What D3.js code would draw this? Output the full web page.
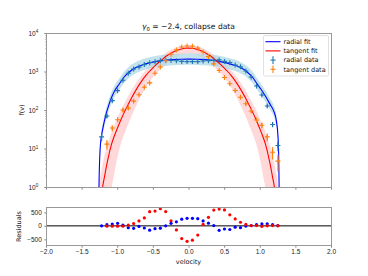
<!DOCTYPE html>
<html>
<head>
<meta charset="utf-8">
<script src="https://cdnjs.cloudflare.com/ajax/libs/d3/7.8.5/d3.min.js"></script>
<style>
  body { margin: 0; background: #fff; }
  svg { display: block; font-family: 'DejaVu Sans', sans-serif; }
  .axis text { font-size: 6.5px; fill: #222; }
  .axis line { stroke: #888; }
</style>
</head>
<body>
<div id="chart"></div>
<script>
// bin centres (velocity) of the data points
var binV = [-1.22, -1.145, -1.07, -0.995, -0.92, -0.845, -0.77, -0.695, -0.62, -0.545, -0.47, -0.395,
    -0.32, -0.245, -0.17, -0.095, -0.02, 0.055, 0.13, 0.205, 0.28, 0.355, 0.43, 0.505,
    0.58, 0.655, 0.73, 0.805, 0.88, 0.955, 1.03, 1.105, 1.18, 1.255];

// counts
var radialData = [20, 70, 175, 318, 590, 900, 1160, 1300, 1510, 1700, 1790, 1900,
    1950, 1930, 1910, 1830, 1810, 1810, 1807, 1867, 1912, 1948, 2000, 1830,
    1700, 1480, 1320, 1030, 720, 420, 245, 127, 42, 12];
var tangentData = [null, 13, 34, 56, 100, 112, 170, 250, 390, 505, 900, 1310,
    1910, 2800, 3630, 4340, 4610, 4520, 4040, 3215, 2440, 1575, 1060, 700,
    480, 320, 215, 145, 94, 55, 40, 20, 8, 4.7];

// residuals (fit - data)
var radialResid = [0, 45, 70, 95, 25, -70, -90, -20, -80, -160, -105, -85,
    0, 95, 150, 250, 280, 280, 268, 183, 98, 12, -165, -116,
    -134, -49, -67, -6, 12, 49, 73, 79, 43, 12];
var tangentResid = [null, -12, -12, -12, -12, 24, 85, 183, 293, 525, 549, 635,
    530, 190, -150, -470, -573, -530, -342, 55, 317, 586, 622, 590,
    410, 256, 134, 55, 10, 10, -20, 0, 12, 0];

// radial fit with its band
var radialFitV = [-1.26, -1.255, -1.25, -1.24, -1.22, -1.2, -1.18, -1.16, -1.13, -1.1, -1.07, -1.03,
    -1.0, -0.95, -0.9, -0.85, -0.8, -0.75, -0.7, -0.65, -0.6, -0.5, -0.4, -0.3, -0.2, -0.1, 0,
    0.115, 0.215, 0.315, 0.415, 0.515, 0.615, 0.715, 0.815, 0.915, 0.965, 1.015, 1.085,
    1.145, 1.195, 1.235, 1.255, 1.265, 1.27, 1.275];
var radialFit = [0.3, 1.5, 3.5, 10, 22, 35, 52, 75, 115, 170, 235, 330,
    400, 540, 730, 900, 1080, 1230, 1360, 1480, 1580, 1750, 1890, 1990, 2050, 2080, 2090,
    2080, 2040, 1970, 1860, 1700, 1510, 1300, 1000, 650, 470, 350, 220,
    140, 95, 50, 22, 8, 2, 0.3];
var radialHi = [0.4, 2.1, 4.9, 14, 31, 49, 73, 105, 161, 238, 329, 462,
    560, 756, 1022, 1260, 1512, 1722, 1904, 2072, 2212, 2450, 2646, 2786, 2870, 2912, 2926,
    2912, 2856, 2758, 2604, 2380, 2114, 1820, 1400, 910, 658, 490, 308,
    196, 133, 70, 31, 11, 2.8, 0.4];
var radialLo = [0.2, 1.1, 2.5, 7.1, 16, 25, 37, 54, 82, 121, 168, 236,
    286, 386, 521, 643, 771, 879, 971, 1057, 1129, 1250, 1350, 1421, 1464, 1486, 1493,
    1486, 1457, 1407, 1329, 1214, 1079, 929, 714, 464, 336, 250, 157,
    100, 68, 36, 16, 5.7, 1.4, 0.2];

// tangent fit with its band
var tangentFitV = [-1.28, -1.26, -1.23, -1.205, -1.18, -1.15, -1.12, -1.1, -1.09, -1.08, -1.05, -1.0,
    -0.95, -0.9, -0.85, -0.8, -0.75, -0.7, -0.65, -0.6, -0.55, -0.5, -0.45, -0.4, -0.35, -0.3,
    -0.25, -0.2, -0.15, -0.1, -0.05, 0, 0.05, 0.1, 0.15, 0.2, 0.25, 0.3, 0.35, 0.4, 0.45, 0.5,
    0.55, 0.6, 0.65, 0.7, 0.75, 0.8, 0.85, 0.9, 0.95, 1.0, 1.05, 1.08, 1.09, 1.1, 1.12, 1.15,
    1.18, 1.205, 1.23, 1.26, 1.28];
var tangentFit = [0.3, 0.3, 0.3, 1.0, 1.8, 3.6, 6.5, 9.5, 11, 13, 19, 33,
    55, 88, 135, 205, 300, 430, 590, 780, 1000, 1250, 1530, 1850, 2200, 2600,
    2950, 3300, 3600, 3850, 4000, 4050, 4000, 3850, 3600, 3300, 2950, 2600, 2200, 1850, 1530, 1250,
    1000, 780, 590, 430, 300, 205, 135, 88, 55, 33, 19, 13, 11, 9.5, 6.5, 3.6,
    1.8, 1.0, 0.3, 0.3, 0.3];
var tangentHi = [0.3, 1.0, 2.3, 4.1, 6.7, 11, 16, 21, 24, 27, 37, 61,
    98, 150, 220, 325, 460, 625, 830, 1070, 1340, 1650, 1980, 2360, 2780, 3230,
    3640, 4030, 4360, 4640, 4800, 4860, 4800, 4640, 4360, 4030, 3640, 3230, 2780, 2360, 1980, 1650,
    1340, 1070, 830, 625, 460, 325, 220, 150, 98, 61, 37, 27, 24, 21, 16, 11,
    6.7, 4.1, 2.3, 1.0, 0.3];
var tangentLo = [0.3, 0.3, 0.3, 0.3, 0.3, 0.3, 0.3, 0.3, 0.3, 0.8, 1.8, 5.5,
    13, 24, 41, 69, 111, 175, 265, 380, 525, 700, 890, 1120, 1380, 1670,
    1965, 2250, 2500, 2710, 2850, 2890, 2850, 2710, 2500, 2250, 1965, 1670, 1380, 1120, 890, 700,
    525, 380, 265, 175, 111, 69, 41, 24, 13, 5.5, 1.8, 0.8, 0.3, 0.3, 0.3, 0.3,
    0.3, 0.3, 0.3, 0.3, 0.3];

// ticks
var xTicks = [-2, -1.5, -1, -0.5, 0, 0.5, 1, 1.5, 2];
var yTicks = [1, 10, 100, 1000, 10000];
var yExp = ['0', '1', '2', '3', '4'];
var residTicks = [-500, 0, 500];

var legendItems = ['radial fit', 'tangent fit', 'radial data', 'tangent data'];

// setup canvas
var width = 368, height = 276;
var svg = d3.select('#chart')
    .append('svg')
    .attr('width', width)
    .attr('height', height);

var xScale = d3.scaleLinear().domain([-2, 2]).range([46, 331]);
var yScale = d3.scaleLog().domain([1, 10000]).range([187, 33]);
var rScale = d3.scaleLinear().domain([-710, 700]).range([245, 207]);

svg.append('clipPath').attr('id', 'clipMain')
    .append('rect')
    .attr('x', 46.5).attr('y', 33.5).attr('width', 285).attr('height', 154);

var main = svg.append('g').attr('clip-path', 'url(#clipMain)');

function rows(v, fit, hi, lo) {
    return v.map(function(d, i){ return { v: d, fit: fit[i], hi: hi[i], lo: lo[i] }; });
}
var radialRows = rows(radialFitV, radialFit, radialHi, radialLo);
var tangentRows = rows(tangentFitV, tangentFit, tangentHi, tangentLo);

var band = d3.area()
    .x(function(d){ return xScale(d.v); })
    .y0(function(d){ return yScale(d.lo); })
    .y1(function(d){ return yScale(d.hi); })
    .curve(d3.curveMonotoneX);

var fitLine = d3.line()
    .x(function(d){ return xScale(d.v); })
    .y(function(d){ return yScale(d.fit); })
    .curve(d3.curveMonotoneX);

// bands
main.append('path').datum(tangentRows)
    .attr('d', band)
    .attr('fill', '#ff0000')
    .attr('fill-opacity', 0.15);
main.append('path').datum(radialRows)
    .attr('d', band)
    .attr('fill', '#add8e6')
    .attr('fill-opacity', 0.75);

// fit lines
main.append('path').datum(radialRows)
    .attr('d', fitLine)
    .attr('fill', 'none')
    .attr('stroke', '#0000ff')
    .attr('stroke-width', 1.1);
main.append('path').datum(tangentRows)
    .attr('d', fitLine)
    .attr('fill', 'none')
    .attr('stroke', '#ff0000')
    .attr('stroke-width', 1.1);

// error bar points
function drawErrorbars(values, color) {
    var pts = binV.map(function(v, i){ return { v: v, n: values[i] }; })
        .filter(function(d){ return d.n != null; });
    var g = main.append('g')
        .attr('stroke', color)
        .attr('stroke-width', 1.1);
    g.selectAll('.ebar')
        .data(pts)
        .enter()
        .append('line')
        .attr('class', 'ebar')
        .attr('x1', function(d){ return xScale(d.v); })
        .attr('x2', function(d){ return xScale(d.v); })
        .attr('y1', function(d){ return yScale(Math.max(d.n - Math.sqrt(d.n), 0.1)); })
        .attr('y2', function(d){ return yScale(d.n + Math.sqrt(d.n)); });
    g.selectAll('.hbar')
        .data(pts)
        .enter()
        .append('line')
        .attr('class', 'hbar')
        .attr('x1', function(d){ return xScale(d.v) - 2.5; })
        .attr('x2', function(d){ return xScale(d.v) + 2.5; })
        .attr('y1', function(d){ return yScale(d.n); })
        .attr('y2', function(d){ return yScale(d.n); });
    g.selectAll('.vbar')
        .data(pts)
        .enter()
        .append('line')
        .attr('class', 'vbar')
        .attr('x1', function(d){ return xScale(d.v); })
        .attr('x2', function(d){ return xScale(d.v); })
        .attr('y1', function(d){ return yScale(d.n) - 2.5; })
        .attr('y2', function(d){ return yScale(d.n) + 2.5; });
}
drawErrorbars(radialData, '#1f77b4');
drawErrorbars(tangentData, '#ff7f0e');

// main axes
svg.append('g')
    .attr('class', 'axis')
    .attr('transform', 'translate(0,187.5)')
    .call(d3.axisBottom(xScale).tickValues(xTicks).tickSize(2.2).tickFormat(''))
    .call(function(g){ g.select('.domain').remove(); });

var yAxisG = svg.append('g')
    .attr('class', 'axis')
    .attr('transform', 'translate(46.5,0)')
    .call(d3.axisLeft(yScale).tickValues(yTicks).tickSize(2.2).tickPadding(2.5)
        .tickFormat(function(){ return '10'; }))
    .call(function(g){ g.select('.domain').remove(); });
yAxisG.selectAll('.tick text')
    .attr('dx', '-0.55em')
    .append('tspan')
    .attr('dy', '-0.55em')
    .attr('font-size', '4.6px')
    .text(function(d, i){ return yExp[i]; });

// minor ticks
var minorTicks = [];
yTicks.slice(0, 4).forEach(function(t){
    [2, 3, 4, 5, 6, 7, 8, 9].forEach(function(m){ minorTicks.push(t * m); });
});
svg.append('g')
    .attr('class', 'axis')
    .attr('transform', 'translate(46.5,0)')
    .call(d3.axisLeft(yScale).tickValues(minorTicks).tickSize(1.3).tickFormat(''))
    .call(function(g){
        g.select('.domain').remove();
        g.selectAll('line').attr('stroke-width', 0.6);
    });

svg.append('rect')
    .attr('x', 46.5).attr('y', 33.5).attr('width', 285).attr('height', 154)
    .attr('fill', 'none').attr('stroke', '#999').attr('stroke-width', 1);

// residual axes
svg.append('line')
    .attr('x1', 46.5).attr('x2', 331.5)
    .attr('y1', rScale(0)).attr('y2', rScale(0))
    .attr('stroke', '#000').attr('stroke-width', 1);

function drawResid(values, color) {
    var pts = binV.map(function(v, i){ return { v: v, r: values[i] }; })
        .filter(function(d){ return d.r != null; });
    svg.append('g').selectAll('circle')
        .data(pts)
        .enter()
        .append('circle')
        .attr('cx', function(d){ return xScale(d.v); })
        .attr('cy', function(d){ return rScale(d.r); })
        .attr('r', 1.6)
        .attr('fill', color);
}
drawResid(radialResid, '#0000ff');
drawResid(tangentResid, '#ff0000');

svg.append('g')
    .attr('class', 'axis')
    .attr('transform', 'translate(0,245.5)')
    .call(d3.axisBottom(xScale).tickValues(xTicks).tickSize(2.2).tickPadding(2)
        .tickFormat(d3.format('.1f')))
    .call(function(g){ g.select('.domain').remove(); });

svg.append('g')
    .attr('class', 'axis')
    .attr('transform', 'translate(46.5,0)')
    .call(d3.axisLeft(rScale).tickValues(residTicks).tickSize(2.2).tickPadding(2.5)
        .tickFormat(d3.format('d')))
    .call(function(g){ g.select('.domain').remove(); });

svg.append('rect')
    .attr('x', 46.5).attr('y', 207.5).attr('width', 285).attr('height', 38)
    .attr('fill', 'none').attr('stroke', '#999').attr('stroke-width', 1);

// labels
var title = svg.append('text')
    .attr('x', 188.5).attr('y', 29)
    .attr('text-anchor', 'middle')
    .attr('font-size', '7.6px')
    .attr('fill', '#111');
title.append('tspan').attr('font-style', 'italic').text('γ');
title.append('tspan').attr('font-size', '5.3px').attr('dy', '1.6').text('0');
title.append('tspan').attr('dy', '-1.6').text(' = \u22122.4, collapse data');

svg.append('text')
    .attr('transform', 'translate(23.5,110) rotate(-90)')
    .attr('text-anchor', 'middle')
    .attr('font-size', '6.5px')
    .attr('fill', '#111')
    .text('f(v)');

svg.append('text')
    .attr('transform', 'translate(20.5,226.5) rotate(-90)')
    .attr('text-anchor', 'middle')
    .attr('font-size', '6.5px')
    .attr('fill', '#111')
    .text('Residuals');

svg.append('text')
    .attr('x', 188.5).attr('y', 264)
    .attr('text-anchor', 'middle')
    .attr('font-size', '6.5px')
    .attr('fill', '#111')
    .text('velocity');

// legend
var legend = svg.append('g').attr('transform', 'translate(263,35)');
legend.append('rect')
    .attr('x', 0.5).attr('y', 0.5).attr('width', 65).attr('height', 40.5)
    .attr('rx', 1.5)
    .attr('fill', '#fff').attr('fill-opacity', 0.8)
    .attr('stroke', '#ccc').attr('stroke-width', 0.6);

var legendColors = ['#0000ff', '#ff0000', '#1f77b4', '#ff7f0e'];
legendItems.forEach(function(name, i){
    var y = 6.7 + i * 9.2;
    if (i < 2) {
        legend.append('line')
            .attr('x1', 2.5).attr('x2', 17.5).attr('y1', y).attr('y2', y)
            .attr('stroke', legendColors[i]).attr('stroke-width', 1.1);
    } else {
        legend.append('line')
            .attr('x1', 10).attr('x2', 10).attr('y1', y - 3.8).attr('y2', y + 3.8)
            .attr('stroke', legendColors[i]).attr('stroke-width', 1.1);
        legend.append('line')
            .attr('x1', 7.5).attr('x2', 12.5).attr('y1', y).attr('y2', y)
            .attr('stroke', legendColors[i]).attr('stroke-width', 1.1);
    }
    legend.append('text')
        .attr('x', 20.5).attr('y', y)
        .attr('dy', '0.35em')
        .attr('font-size', '6.5px')
        .attr('fill', '#111')
        .text(name);
});
</script>
</body>
</html>
